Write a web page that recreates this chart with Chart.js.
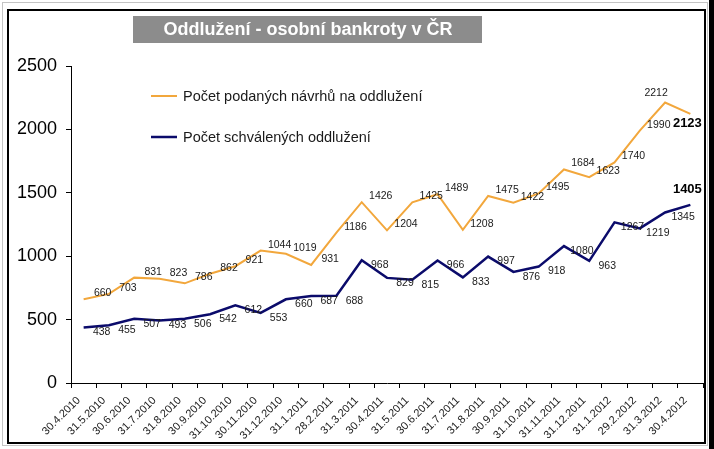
<!DOCTYPE html>
<html>
<head>
<meta charset="utf-8">
<script src="https://cdn.jsdelivr.net/npm/chart.js@4.4.0/dist/chart.umd.min.js"></script>
<style>
  html, body { margin: 0; padding: 0; background: #fff; }
  #wrap { position: relative; width: 714px; height: 449px; overflow: hidden; }
  .outer { position: absolute; left: 2px; top: 2px; width: 704px; height: 442px; border: 1px solid #c4c4c4; }
  .inner { position: absolute; left: 7px; top: 9px; width: 695px; height: 431px; border: 2px solid #000; }
  .shadow { position: absolute; left: 709px; top: 0; width: 5px; height: 449px; background: #000; }
  canvas { position: absolute; left: 0; top: 0; }
</style>
</head>
<body>
<div id="wrap">
  <div class="outer"></div>
  <div class="inner"></div>
  <div class="shadow"></div>
  <canvas id="chart" width="714" height="449"></canvas>
</div>
<script>
const months = [
  '30.4.2010', '31.5.2010', '30.6.2010', '31.7.2010', '31.8.2010', '30.9.2010',
  '31.10.2010', '30.11.2010', '31.12.2010', '31.1.2011', '28.2.2011', '31.3.2011',
  '30.4.2011', '31.5.2011', '30.6.2011', '31.7.2011', '31.8.2011', '30.9.2011',
  '31.10.2011', '31.11.2011', '31.12.2011', '31.1.2012', '29.2.2012', '31.3.2012',
  '30.4.2012'
];
const podane = [660, 703, 831, 823, 786, 862, 921, 1044, 1019, 931, 1186, 1426, 1204,
  1425, 1489, 1208, 1475, 1422, 1495, 1684, 1623, 1740, 1990, 2212, 2123];
const schvalene = [438, 455, 507, 493, 506, 542, 612, 553, 660, 687, 688, 968, 829,
  815, 966, 833, 997, 876, 918, 1080, 963, 1267, 1219, 1345, 1405];
const yTicks = [0, 500, 1000, 1500, 2000, 2500];

const titleText = 'Oddlužení - osobní bankroty v ČR';
const legendNames = ['Počet podaných návrhů na oddlužení', 'Počet schválených oddlužení'];
const ORANGE = '#f2a73c';
const NAVY = '#0b0b6b';
const FONT = '"Liberation Sans", Arial, sans-serif';

// grey title box and legend drawn by hand
const decor = {
  id: 'decor',
  afterDraw(chart) {
    const ctx = chart.ctx;
    ctx.save();
    ctx.fillStyle = '#8c8c8c';
    ctx.fillRect(133, 16, 349, 27);
    ctx.fillStyle = '#fff';
    ctx.font = 'bold 18px ' + FONT;
    ctx.textAlign = 'center';
    ctx.textBaseline = 'middle';
    ctx.fillText(titleText, 308, 30);

    const rows = [[legendNames[0], ORANGE, 2, 96], [legendNames[1], NAVY, 2.5, 137]];
    ctx.font = '14.5px ' + FONT;
    ctx.textAlign = 'left';
    rows.forEach(r => {
      ctx.strokeStyle = r[1];
      ctx.lineWidth = r[2];
      ctx.beginPath();
      ctx.moveTo(151, r[3]);
      ctx.lineTo(177, r[3]);
      ctx.stroke();
      ctx.fillStyle = '#1a1a1a';
      ctx.fillText(r[0], 183, r[3] + 1);
    });
    ctx.restore();
  }
};

const valueLabels = {
  id: 'valueLabels',
  afterDatasetsDraw(chart) {
    const ctx = chart.ctx;
    ctx.save();
    ctx.textAlign = 'center';
    ctx.textBaseline = 'middle';
    chart.data.datasets.forEach((ds, di) => {
      const meta = chart.getDatasetMeta(di);
      const last = ds.data.length - 1;
      const maxVal = Math.max(...ds.data);
      meta.data.forEach((pt, i) => {
        let dx = di === 0 ? 19 : 18;
        let dy = di === 0 ? -6 : 5;
        ctx.font = '10.5px ' + FONT;
        ctx.fillStyle = '#1a1a1a';
        if (i === last) {
          dx = -3;
          dy = di === 0 ? 10 : -15;
          ctx.font = 'bold 13px ' + FONT;
          ctx.fillStyle = '#000';
        } else if (di === 0 && ds.data[i] === maxVal) {
          dx = -9;
          dy = -9;
        }
        ctx.fillText(String(ds.data[i]), pt.x + dx, pt.y + dy);
      });
    });
    ctx.restore();
  }
};

new Chart(document.getElementById('chart'), {
  type: 'line',
  data: {
    labels: months,
    datasets: [{
      label: legendNames[0],
      data: podane,
      borderColor: ORANGE,
      borderWidth: 2,
      pointRadius: 0,
      tension: 0
    }, {
      label: legendNames[1],
      data: schvalene,
      borderColor: NAVY,
      borderWidth: 2.5,
      pointRadius: 0,
      tension: 0
    }]
  },
  options: {
    responsive: false,
    animation: false,
    events: [],
    layout: { padding: { left: 8, right: 11, top: 66, bottom: 0 } },
    plugins: {
      legend: { display: false },
      title: { display: false },
      tooltip: { enabled: false }
    },
    scales: {
      x: {
        offset: true,
        afterFit: (scale) => { scale.height = 66; },
        grid: { offset: true, drawOnChartArea: false, drawTicks: true, tickLength: 5, color: '#000' },
        border: { color: '#000', width: 1 },
        ticks: {
          autoSkip: false,
          maxRotation: 45,
          minRotation: 45,
          padding: 6,
          labelOffset: -5,
          color: '#1a1a1a',
          font: { family: FONT, size: 11 }
        }
      },
      y: {
        min: yTicks[0],
        max: yTicks[yTicks.length - 1],
        afterFit: (scale) => { scale.width = 63; },
        afterBuildTicks: (scale) => { scale.ticks = yTicks.map(v => ({ value: v })); },
        grid: { drawOnChartArea: false, drawTicks: true, tickLength: 5, color: '#000' },
        border: { color: '#000', width: 1 },
        ticks: {
          padding: 9,
          color: '#000',
          font: { family: FONT, size: 18 },
          callback: (v) => String(v)
        }
      }
    }
  },
  plugins: [decor, valueLabels]
});
</script>
</body>
</html>
